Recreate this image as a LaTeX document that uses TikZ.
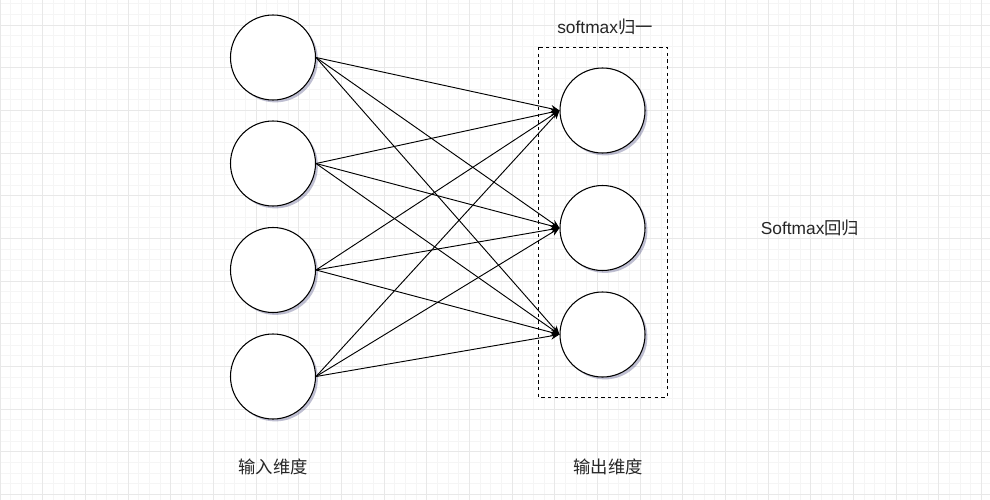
\documentclass[tikz,border=0pt]{standalone}
\usepackage{fontspec}
\setmainfont{Liberation Sans}
\newfontfamily\cjk{Noto Sans CJK SC}
\usetikzlibrary{arrows.meta,shadows}

\tikzset{
  neuron/.style={circle,draw,line width=0.8pt,fill=white,minimum size=63.75pt,inner sep=0pt,
    drop shadow={shadow xshift=1.8pt,shadow yshift=-1.8pt,fill=black!70!blue,opacity=0.25}},
  link/.style={line width=0.7pt,-{Stealth[length=6.5pt,width=5.5pt]}},
  label/.style={font=\fontsize{13pt}{15pt}\selectfont,text=black!85}
}

\begin{document}
\begin{tikzpicture}[x=0.75pt,y=-0.75pt]
  \useasboundingbox (0,0) rectangle (990,500);
  % background grid
  \begin{scope}
    \clip (0,0) rectangle (990,500);
    \fill[white] (0,0) rectangle (990,500);
    \begin{scope}[yshift=-18.75pt]
      \draw[black!4,line width=0.6pt,step=8pt] (0,-40) grid (1000,500);
      \draw[black!9,line width=0.6pt,step=32pt] (0,-40) grid (1000,500);
    \end{scope}
  \end{scope}

  % input layer
  \foreach \y [count=\i] in {57.5,163.5,270,376.5}
    \node[neuron] (in\i) at (273,\y) {};
  % output layer
  \foreach \y [count=\o] in {110.5,228,334.5}
    \node[neuron] (out\o) at (602.5,\y) {};

  \draw[line width=0.7pt,dash pattern=on 2.5pt off 2.5pt] (538,47) rectangle (667,397);

  \foreach \i in {1,...,4}
    \foreach \o in {1,...,3}
      \draw[link] (in\i.east) -- (out\o.west);

  \node[label] (norm) at (605,27) {softmax\cjk 归一};
  \node[label] (title) at (810,228) {Softmax\cjk 回归};
  \node[label] (indim) at (273,467) {\cjk 输入维度};
  \node[label] (outdim) at (608,467) {\cjk 输出维度};
\end{tikzpicture}
\end{document}
